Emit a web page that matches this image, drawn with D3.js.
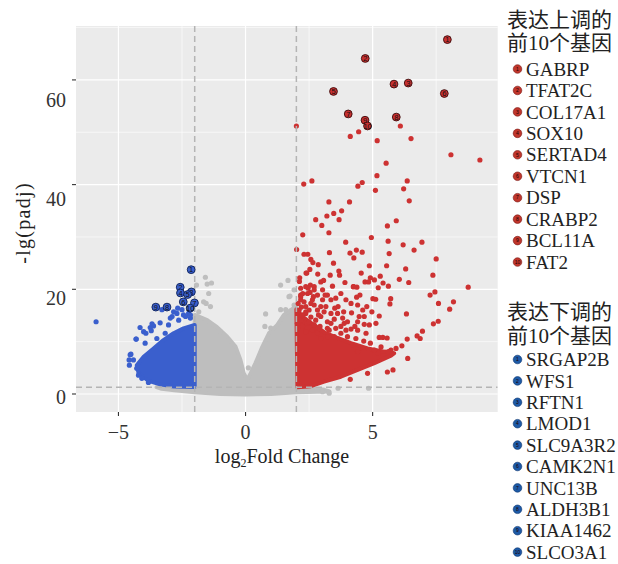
<!DOCTYPE html>
<html><head><meta charset="utf-8">
<script src="https://cdn.jsdelivr.net/npm/d3@7"></script>
<style>body{margin:0;background:#fff}</style>
</head><body><svg id="c" width="618" height="564"></svg>
<script>
// ---------- data ----------
const xTicks = [-5, 0, 5];
const xMinor = [-2.5, 2.5, 7.5];
const yTicks = [0, 20, 40, 60];
const yMinor = [10, 30, 50, 70];
const fcCut = [-2, 2];
const padjCut = 1.3;

const upTitle = ["表达上调的", "前10个基因"];
const downTitle = ["表达下调的", "前10个基因"];
const upGenes = ["GABRP","TFAT2C","COL17A1","SOX10","SERTAD4","VTCN1","DSP","CRABP2","BCL11A","FAT2"];
const downGenes = ["SRGAP2B","WFS1","RFTN1","LMOD1","SLC9A3R2","CAMK2N1","UNC13B","ALDH3B1","KIAA1462","SLCO3A1"];

// top-10 labelled genes [log2FC, -lg(padj)]
const upTop = [[7.94,67.7],[4.71,64.1],[6.40,59.4],[5.84,59.2],[3.46,57.8],[7.82,57.4],[4.04,53.5],[5.93,52.9],[4.70,52.3],[4.80,51.2]];
const downTop = [[-2.14,23.75],[-2.57,20.4],[-2.13,19.5],[-2.56,19.3],[-2.28,19.0],[-2.45,17.6],[-2.01,17.4],[-3.09,16.6],[-3.53,16.6],[-2.18,16.4]];

// dense clouds (outline of densely packed genes)
const greyCloud = [[-2.0,15.1],[-1.51,14.1],[-1.12,12.75],[-0.72,10.95],[-0.39,9.0],[-0.20,6.5],[-0.07,3.95],[0.07,2.7],[0.20,3.95],[0.39,5.9],[0.66,9.0],[0.92,11.6],[1.25,13.2],[1.51,15.1],[1.78,16.05],[2.0,16.7],[2.0,1.3],[2.6,1.1],[3.1,0.8],[3.3,0.5],[2.8,0.45],[2.0,0.35],[1.0,0.0],[0,-0.1],[-1.0,0.0],[-2.0,0.35],[-2.8,0.7],[-3.3,1.0],[-3.5,1.3],[-2.0,1.3]];
const blueCloud = [[-2.0,13.2],[-2.44,12.55],[-2.83,11.6],[-3.23,10.3],[-3.62,8.7],[-4.01,7.1],[-4.28,5.5],[-4.21,4.0],[-3.82,2.5],[-3.36,1.85],[-2.83,1.45],[-2.0,1.35]];
const redCloud = [[2.0,16.2],[2.2,15.0],[2.5,13.8],[2.75,13.0],[3.09,11.8],[3.62,10.7],[4.15,9.7],[4.80,8.7],[5.46,8.1],[5.85,7.8],[5.72,7.3],[5.07,5.9],[4.41,4.6],[3.75,3.3],[3.09,2.35],[2.57,1.5],[2.04,1.3]];

// individual genes outside the dense clouds
const redPts = [[2.00,51.2],[4.12,49.2],[4.45,50.1],[5.18,48.4],[6.09,51.2],[6.51,48.8],[8.08,45.7],[9.22,44.7],[5.53,44.1],[5.17,41.7],[6.36,40.7],[4.59,40.4],[4.42,39.7],[5.11,38.9],[6.22,39.2],[6.44,36.9],[2.29,40.1],[2.61,40.7],[3.28,36.7],[4.09,36.7],[3.78,35.0],[3.47,34.5],[3.20,34.0],[2.76,33.3],[3.00,32.2],[3.68,33.3],[3.28,30.8],[2.25,30.4],[5.93,33.1],[5.58,32.1],[4.95,29.9],[3.94,29.0],[5.61,29.2],[6.20,28.5],[6.94,29.0],[6.63,27.5],[2.01,27.6],[2.30,26.7],[2.45,26.7],[3.30,27.0],[4.11,26.9],[4.36,27.5],[4.59,27.1],[4.26,26.0],[5.65,26.8],[2.57,25.7],[2.65,25.1],[2.86,24.7],[3.46,25.0],[4.87,24.5],[5.55,24.5],[6.30,23.9],[7.50,25.8],[7.37,22.7],[8.76,20.4],[2.53,23.8],[2.41,23.1],[2.13,22.2],[2.84,22.9],[3.33,22.7],[3.67,23.5],[3.70,22.7],[4.55,23.1],[5.30,22.5],[4.91,22.2],[5.07,21.8],[6.05,21.9],[6.42,21.3],[4.70,21.4],[4.84,21.4],[3.91,21.3],[2.96,21.4],[3.07,21.7],[2.55,20.8],[3.42,20.6],[4.24,20.5],[4.38,20.4],[5.22,20.3],[5.41,21.2],[5.62,20.6],
[7.26,18.9],[7.45,19.5],[7.59,17.3],[8.18,17.6],[8.03,16.2],[6.33,15.3],[7.58,13.9],[7.39,13.4],[6.96,12.0],[6.75,11.1],[6.87,10.6],[6.36,10.5],[6.38,6.8],[6.15,9.2],[5.92,8.7],[5.72,8.4],[5.62,8.1],[5.33,9.0],[5.22,7.8],[5.80,4.6],[5.58,4.2],[4.80,3.95],[4.12,2.8],[5.71,18.2],[5.68,17.2],[5.26,14.9],[5.13,13.5],[5.12,18.1],[5.01,18.2],[4.50,18.9],[4.37,18.5],[4.25,20.5],[3.64,16.7],[3.86,15.7],[3.51,16.4],[3.13,18.9],[2.67,18.6],[2.54,19.4],[2.25,19.2],[3.09,15.7],[2.87,15.1],[2.57,14.7],[2.37,15.4],[2.17,14.1],[3.22,13.8],[3.49,14.3],[3.88,13.5],[4.15,12.4],[4.41,12.2],[4.67,13.3],[4.87,13.2],[4.74,11.6],[5.26,10.8],[5.40,10.8],[5.57,10.7],[4.47,14.8],[4.17,15.5],[4.97,15.7],[4.77,16.7],[2.20,16.6],[2.63,18.0],[2.30,17.6],[2.96,16.7],[3.36,15.4],[3.82,14.5],[4.01,13.8],[4.30,12.9],[4.65,10.1],[4.91,9.7],[5.07,8.4],[4.61,8.7],[4.21,9.4],[4.41,8.1],
[2.38,23.1],[2.12,21.5],[2.44,19.2],[2.17,18.6],[2.70,20.5],[2.37,15.7],
[2.07,17.3],[2.11,16.05],[2.15,14.8],[2.24,12.9],[2.43,13.5],[2.50,16.05],[2.70,17.0],[2.76,14.1],[2.93,12.9],[3.03,18.0],[2.04,13.5],[2.37,11.9],[2.63,12.2],[2.83,11.6],[3.29,12.2],[3.55,12.55],[3.75,11.6],[4.01,10.95],[4.34,10.6],[3.23,10.95],[2.96,10.6],[2.17,18.9],[2.46,20.2],
[2.17,20.2],[2.37,20.5],[2.70,19.9],[2.83,18.9],[3.03,19.9],[3.22,18.9],[3.36,18.0],[3.55,18.3],[3.75,19.2],[3.95,18.0],[4.15,17.3],[4.41,17.0],[4.61,16.05],[2.17,18.0],[2.37,16.7],[2.57,17.3],[2.83,16.05],[2.96,14.8],[3.16,16.7],[3.36,13.5],[3.62,15.4],[3.75,12.9],[3.95,12.2],[2.70,13.2],[2.50,13.8],[2.24,15.1],[3.22,12.55],[3.49,10.95],[4.41,13.8],[4.67,14.8]];

const bluePts = [[-5.88,13.8],[-2.67,16.4],[-3.29,16.1],[-2.96,14.5],[-4.15,12.7],[-4.31,10.5],[-4.01,11.9],[-3.75,12.7],[-3.62,13.0],[-3.71,12.1],[-3.36,13.6],[-3.03,13.2],[-2.89,14.8],[-2.44,15.1],[-2.24,15.4],[-2.17,14.5],[-2.63,14.1],[-3.16,11.6],[-3.49,10.6],[-3.95,9.7],[-4.54,7.5],[-4.57,5.5],[-4.41,6.5],[-4.28,4.9],[-4.21,3.6],[-4.08,3.0],[-3.82,2.2],[-4.51,7.6],[-4.58,6.5],[-4.30,10.5],[-3.92,11.6],[-3.68,13.4],[-2.83,15.7],[-2.70,15.4],[-2.50,16.1],[-2.36,14.8],[-2.17,15.1]];

const greyPts = [[-1.58,22.3],[-1.51,21.0],[-1.34,21.2],[-1.93,20.8],[-1.65,17.6],[-1.38,16.7],[-1.84,15.7],[-1.45,19.2],[-1.55,17.3],[-0.99,11.9],[-0.66,10.3],[0.11,5.0],[0.79,15.3],[0.76,12.9],[0.99,12.6],[1.38,20.8],[1.67,21.7],[1.71,18.6],[1.38,16.1],[1.58,16.1],[1.91,19.9],[1.91,17.0],[1.75,18.7],[3.03,0.45],[3.29,0.15],[3.64,1.1],[4.84,1.1],[2.83,0.75]];

// ---------- drawing ----------
const svg = d3.select("#c");
const P = {l:76, r:497.7, t:26, b:412};
const x = d3.scaleLinear().domain([-6.67, 9.92]).range([P.l, P.r]);
const y = d3.scaleLinear().domain([-3.44, 70.3]).range([P.b, P.t]);
const yLab = d3.scaleLinear().domain([0, 60]).range([396.5, 99.5]);

const serif = "'Liberation Serif','Times New Roman',serif";
const cjk = "'Liberation Serif','Noto Sans CJK SC',serif";
const RED = "#cd3232", BLUE = "#3a5fcd", GREY = "#bebebe";

svg.append("rect").attr("x", P.l).attr("y", P.t).attr("width", P.r-P.l).attr("height", P.b-P.t).attr("fill", "#ebebeb");

const grid = svg.append("g");
grid.selectAll(".ym").data(yMinor).join("line").attr("x1",P.l).attr("x2",P.r).attr("y1",d=>y(d)).attr("y2",d=>y(d)).attr("stroke","#fff").attr("stroke-width",0.6);
grid.selectAll(".xm").data(xMinor).join("line").attr("y1",P.t).attr("y2",P.b).attr("x1",d=>x(d)).attr("x2",d=>x(d)).attr("stroke","#fff").attr("stroke-width",0.6);
grid.selectAll(".yM").data(yTicks).join("line").attr("x1",P.l).attr("x2",P.r).attr("y1",d=>y(d)).attr("y2",d=>y(d)).attr("stroke","#fff").attr("stroke-width",1.2);
grid.selectAll(".xM").data(xTicks).join("line").attr("y1",P.t).attr("y2",P.b).attr("x1",d=>x(d)).attr("x2",d=>x(d)).attr("stroke","#fff").attr("stroke-width",1.2);

svg.append("clipPath").attr("id","clip").append("rect").attr("x",P.l).attr("y",P.t).attr("width",P.r-P.l).attr("height",P.b-P.t);
const plot = svg.append("g").attr("clip-path","url(#clip)");

const line = d3.line().x(d=>x(d[0])).y(d=>y(d[1])).curve(d3.curveLinearClosed);
function cloud(data, col){
  plot.append("path").attr("d", line(data)).attr("fill", col).attr("stroke", col).attr("stroke-width", 4).attr("stroke-linejoin","round");
}
function pts(data, col){
  plot.append("g").selectAll("circle").data(data).join("circle")
    .attr("cx", d=>x(d[0])).attr("cy", d=>y(d[1])).attr("r", 2.6).attr("fill", col);
}
cloud(greyCloud, GREY); pts(greyPts, GREY);
cloud(blueCloud, BLUE); pts(bluePts, BLUE);
cloud(redCloud, RED); pts(redPts, RED);

// threshold lines
plot.selectAll(".vc").data(fcCut).join("line").attr("x1",d=>x(d)).attr("x2",d=>x(d)).attr("y1",P.t).attr("y2",P.b)
  .attr("stroke","#b4b4b4").attr("stroke-width",1.5).attr("stroke-dasharray","6,4");
plot.append("line").attr("x1",P.l).attr("x2",P.r).attr("y1",y(padjCut)).attr("y2",y(padjCut))
  .attr("stroke","#b4b4b4").attr("stroke-width",1.5).attr("stroke-dasharray","6,4");

// labelled top genes
function drawTop(data, fill, edge){
  const g = plot.append("g").selectAll("g").data(data).join("g")
    .attr("transform", d=>`translate(${x(d[0])},${y(d[1])})`);
  g.append("circle").attr("r", 3.9).attr("fill", fill).attr("stroke", edge).attr("stroke-width", 0.9);
  g.append("text").text((d,i)=>i+1).attr("text-anchor","middle").attr("dy","0.36em")
    .attr("font-family","'Liberation Sans',Arial,sans-serif").attr("font-size",7.5).attr("fill","#111");
}
drawTop(upTop, "#c83030", "#3a0a0a");
drawTop(downTop, "#3a5fcd", "#0b1f55");

// axes
const ax = svg.append("g");
ax.selectAll(".yt").data(yTicks).join("line").attr("x1",P.l-4).attr("x2",P.l).attr("y1",d=>y(d)).attr("y2",d=>y(d)).attr("stroke","#333").attr("stroke-width",1.1);
ax.selectAll(".yl").data(yTicks).join("text").text(d=>d).attr("x",P.l-10).attr("y",d=>yLab(d)).attr("dy","0.35em")
  .attr("text-anchor","end").attr("font-family",serif).attr("font-size",20).attr("fill","#333");
ax.selectAll(".xt").data(xTicks).join("line").attr("y1",P.b).attr("y2",P.b+4).attr("x1",d=>x(d)).attr("x2",d=>x(d)).attr("stroke","#333").attr("stroke-width",1.1);
ax.selectAll(".xl").data(xTicks).join("text").text(d=>d<0?"\u2212"+Math.abs(d):d).attr("y",432).attr("x",d=>x(d)).attr("dy","0.35em")
  .attr("text-anchor","middle").attr("font-family",serif).attr("font-size",20).attr("fill","#333");

const xt = svg.append("text").attr("x",282).attr("y",463).attr("text-anchor","middle").attr("font-family",serif).attr("font-size",20).attr("fill","#222");
xt.append("tspan").text("log");
xt.append("tspan").text("2").attr("font-size",12).attr("dy",4);
xt.append("tspan").text("Fold Change").attr("dy",-4);

svg.append("text").attr("transform","translate(30,223) rotate(-90)").attr("text-anchor","middle")
  .attr("font-family",serif).attr("font-size",20).attr("letter-spacing",1.3).attr("fill","#222").text("-lg(padj)");

// legends
function legend(title, genes, t0, i0, step, fill, edge){
  const g = svg.append("g");
  g.selectAll(".t").data(title).join("text").text(d=>d).attr("x",507).attr("y",(d,i)=>t0+i*23.5).attr("dy","0.35em")
    .attr("font-family",cjk).attr("font-size",21).attr("fill","#222");
  const it = g.selectAll(".i").data(genes).join("g").attr("transform",(d,i)=>`translate(0,${i0+i*step})`);
  it.append("circle").attr("cx",517.5).attr("r",4.3).attr("fill",fill).attr("stroke",edge).attr("stroke-width",0.6);
  it.append("text").text((d,i)=>i+1).attr("x",517.5).attr("dy","0.35em").attr("text-anchor","middle")
    .attr("font-family","'Liberation Sans',sans-serif").attr("font-size",5).attr("fill","#220000");
  it.append("text").text(d=>d).attr("x",526).attr("dy","0.35em").attr("font-family",serif).attr("font-size",19).attr("fill","#222");
}
legend(upTitle, upGenes, 19.5, 69, 21.45, "#c0362c", "#7a1a14");
legend(downTitle, downGenes, 312, 359.5, 21.4, "#1d5aa6", "#0d3570");
</script></body></html>
